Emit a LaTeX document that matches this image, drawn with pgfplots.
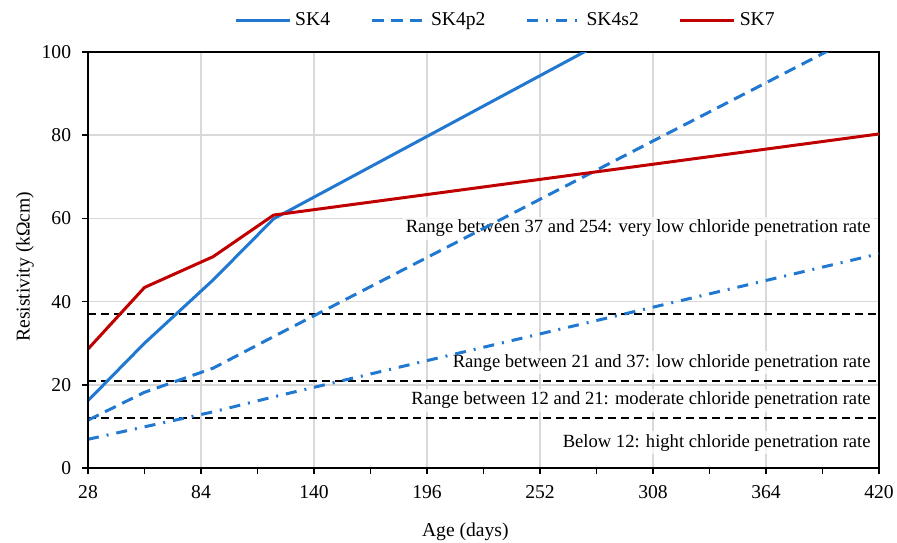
\documentclass[border=0pt]{standalone}
\usepackage{fontspec}
\setmainfont{Liberation Serif}
\usepackage{pgfplots}
\pgfplotsset{compat=1.18}
\definecolor{skblue}{RGB}{32,120,208}
\definecolor{skred}{RGB}{192,0,0}
\definecolor{gridgray}{RGB}{217,217,217}
\begin{document}
\fontsize{9.8}{11.5}\selectfont
\begin{tikzpicture}
\begin{axis}[
  at={(0,0)}, anchor=south west,
  scale only axis, width=395.5pt, height=208pt,
  xmin=28, xmax=420, ymin=0, ymax=100,
  xtick={28,84,...,420}, minor xtick={56,112,...,392},
  ytick={0,20,...,100},
  tick pos=left,
  tick align=outside, major tick length=3pt, minor tick length=3pt,
  tick style={black, line width=0.8pt},
  xmajorgrids, ymajorgrids,
  major grid style={gridgray, line width=0.75pt},
  axis line style={black, line width=0.6pt},
  /pgf/number format/assume math mode=true,
  xticklabel style={yshift=-2.5pt},
  yticklabel style={xshift=-2pt},
  xlabel={Age (days)}, ylabel={Resistivity (kΩcm)},
  xlabel style={at={(axis description cs:0.477,-0.153)}, anchor=center},
  ylabel style={at={(axis description cs:-0.0796,0.484)}, anchor=center},
  legend columns=4,
  legend style={at={(axis description cs:0.529,1.0757)}, anchor=center, draw=none, fill=none,
    /tikz/every even column/.append style={column sep=18pt}},
  legend image code/.code={\draw[#1] (0pt,0pt) -- (27pt,0pt);},
  clip mode=individual,
]
\addplot[black, line width=1.1pt, dash pattern=on 4pt off 2.5pt, forget plot] coordinates {(28,37) (420,37)};
\addplot[black, line width=1.1pt, dash pattern=on 4pt off 2.5pt, forget plot] coordinates {(28,21) (420,21)};
\addplot[black, line width=1.1pt, dash pattern=on 4pt off 2.5pt, forget plot] coordinates {(28,12) (420,12)};

\node[font=\fontsize{9.3}{11}\selectfont, anchor=east, xshift=-2.5pt, fill=white, fill opacity=0.7, text opacity=1, inner sep=1.5pt] at (axis cs:420,57.6) {Range between 37 and 254: very low chloride penetration rate};
\node[font=\fontsize{9.3}{11}\selectfont, anchor=east, xshift=-2.5pt, fill=white, fill opacity=0.7, text opacity=1, inner sep=1.5pt] at (axis cs:420,25.3) {Range between 21 and 37: low chloride penetration rate};
\node[font=\fontsize{9.3}{11}\selectfont, anchor=east, xshift=-2.5pt, fill=white, fill opacity=0.7, text opacity=1, inner sep=1.5pt] at (axis cs:420,16.3) {Range between 12 and 21: moderate chloride penetration rate};
\node[font=\fontsize{9.3}{11}\selectfont, anchor=east, xshift=-2.5pt, fill=white, fill opacity=0.7, text opacity=1, inner sep=1.5pt] at (axis cs:420,6.1) {Below 12: hight chloride penetration rate};

\addplot[skblue, line width=1.5pt] coordinates {(28,16.2) (56,30) (90,45.2) (120,59.9) (420,138.1)};
\addlegendentry{SK4}
\addplot[skblue, line width=1.5pt, dash pattern=on 6pt off 3.5pt] coordinates {(28,11.5) (56,18.2) (90,24) (120,31.6) (420,106.6)};
\addlegendentry{SK4p2}
\addplot[skblue, line width=1.5pt, dash pattern=on 5.5pt off 4pt on 1pt off 4pt] coordinates {(28,6.9) (56,9.9) (90,13.5) (120,17.1) (420,51.5)};
\addlegendentry{SK4s2}
\addplot[skred, line width=1.5pt] coordinates {(28,28.6) (56,43.4) (90,50.8) (120,60.8) (420,80.3)};
\addlegendentry{SK7}

\draw[black, line width=1.3pt] (rel axis cs:0,1) -- (rel axis cs:0,0) -- (rel axis cs:1,0);
\end{axis}
\pgfresetboundingbox
\path (-44pt,-37pt) rectangle (404.5pt,234pt);
\end{tikzpicture}
\end{document}
